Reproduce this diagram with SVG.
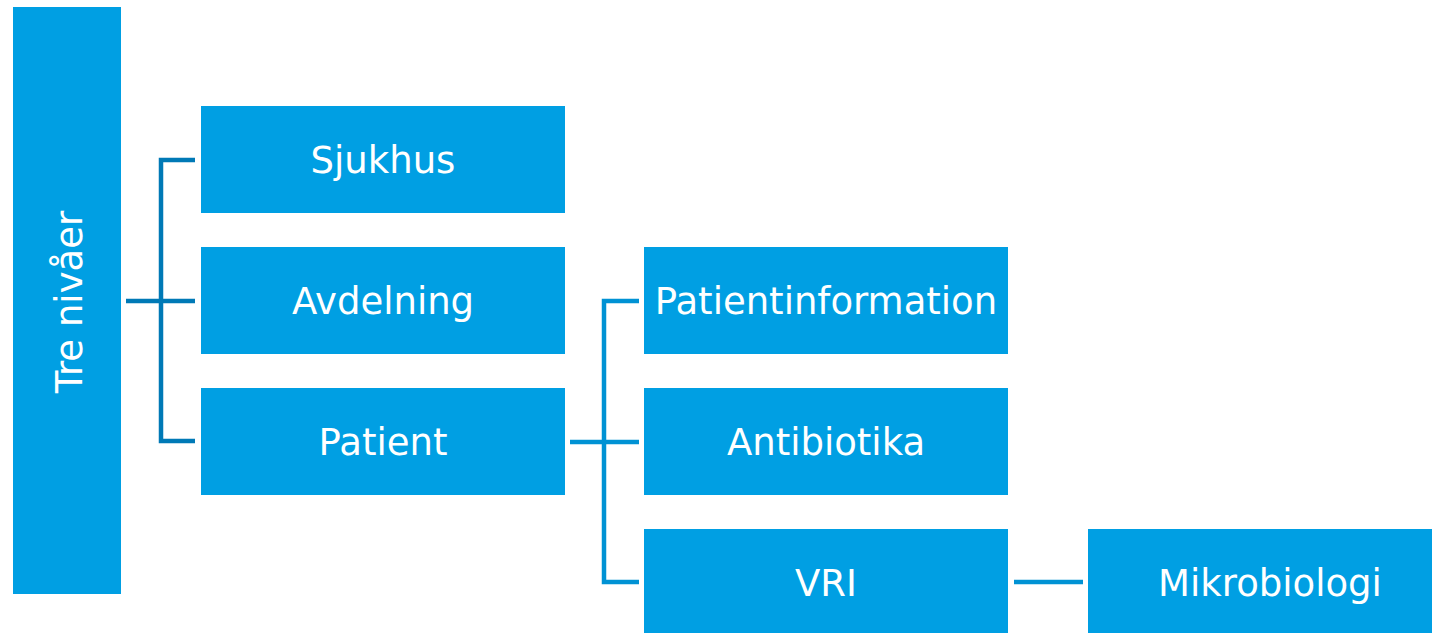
<svg xmlns="http://www.w3.org/2000/svg" width="1432" height="633" viewBox="0 0 1432 633">
<style>
.box{fill:#009FE3}
.lbl{fill:#FFFFFF;font-family:"DejaVu Sans","Verdana",sans-serif;font-size:37px;text-anchor:middle}
.c1{fill:none;stroke:#0079B6;stroke-width:4.5}
.c2{fill:none;stroke:#0092D4;stroke-width:4.5}
</style>
<rect width="1432" height="633" fill="#FFFFFF"/>
<g id="connectors">
<path class="c1" d="M195,160 H161 V441 H195 M126,301 H195"/>
<path class="c2" d="M639,301 H604 V582 H639 M570,442 H639"/>
<path class="c2" d="M1014,582 H1083"/>
</g>
<g id="tre-nivaer">
<rect class="box" x="13" y="7" width="108" height="587"/>
<text class="lbl" transform="translate(82,302) rotate(-90)">Tre nivåer</text>
</g>
<g id="sjukhus">
<rect class="box" x="201" y="106" width="364" height="107"/>
<text class="lbl" x="383" y="173">Sjukhus</text>
</g>
<g id="avdelning">
<rect class="box" x="201" y="247" width="364" height="107"/>
<text class="lbl" x="383" y="314">Avdelning</text>
</g>
<g id="patient">
<rect class="box" x="201" y="388" width="364" height="107"/>
<text class="lbl" x="383" y="455">Patient</text>
</g>
<g id="patientinformation">
<rect class="box" x="644" y="247" width="364" height="107"/>
<text class="lbl" x="826" y="314">Patientinformation</text>
</g>
<g id="antibiotika">
<rect class="box" x="644" y="388" width="364" height="107"/>
<text class="lbl" x="826" y="455">Antibiotika</text>
</g>
<g id="vri">
<rect class="box" x="644" y="529" width="364" height="107"/>
<text class="lbl" x="826" y="596">VRI</text>
</g>
<g id="mikrobiologi">
<rect class="box" x="1088" y="529" width="364" height="107"/>
<text class="lbl" x="1270" y="596">Mikrobiologi</text>
</g>
</svg>
